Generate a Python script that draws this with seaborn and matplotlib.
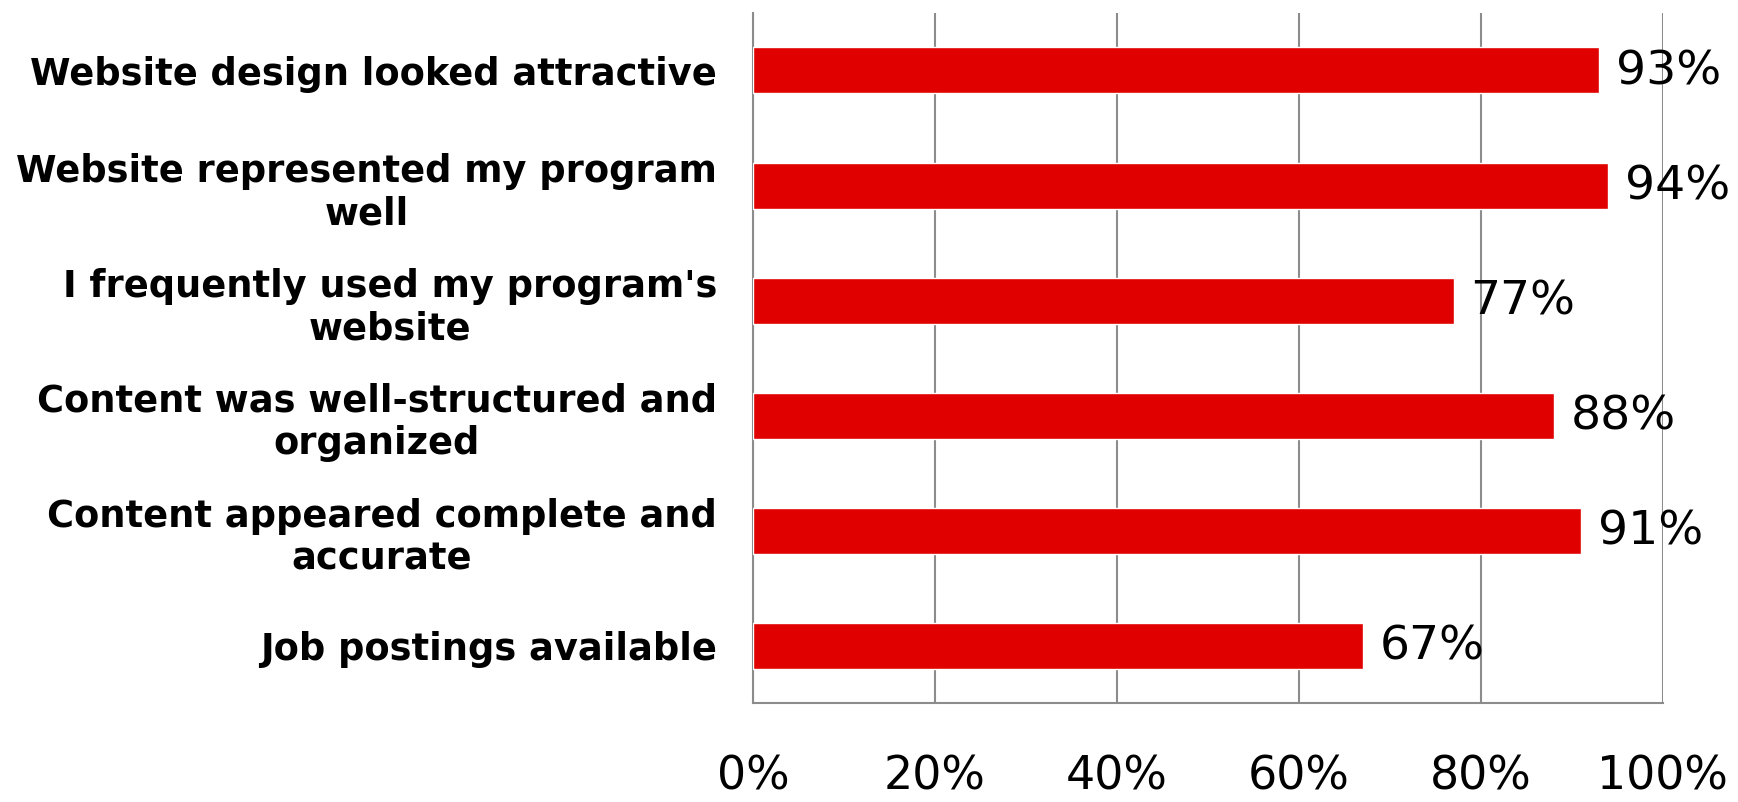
import pandas as pd
import matplotlib
matplotlib.use('Agg')
import matplotlib.pyplot as plt
import seaborn as sns
import numpy as np

# Daten aus der Vorlage
statements = [
    "Website design looked attractive",
    "Website represented my program\nwell",
    "I frequently used my program's\nwebsite",
    "Content was well-structured and\norganized",
    "Content appeared complete and\naccurate",
    "Job postings available",
]
agree_pct = [93, 94, 77, 88, 91, 67]
x_ticks = [0, 20, 40, 60, 80, 100]
x_tick_labels = ['0%', '20%', '40%', '60%', '80%', '100%']

df = pd.DataFrame({'statement': statements, 'pct': agree_pct})

sns.set_theme(style="white")
plt.rcParams['font.family'] = ['DejaVu Sans']

fig = plt.figure(figsize=(17.38, 8.02), dpi=100)
ax = fig.add_axes([0.4333, 0.1234, 0.9568 - 0.4333, 0.9838 - 0.1234])

sns.barplot(data=df, x='pct', y='statement', orient='h', color='#e00000',
            width=0.4, saturation=1, ax=ax, zorder=3)

ax.set_xlim(0, 100)
ax.set_ylim(len(statements) - 0.5, -0.5)
ax.set_xticks(x_ticks)
ax.set_xticklabels(x_tick_labels, fontsize=33, color='black')
ax.grid(axis='x', color='#8c8c8c', linewidth=1.5, zorder=0)
ax.grid(axis='y', visible=False)

# Kategorie-Beschriftungen
for t in ax.get_yticklabels():
    t.set_fontweight('bold')
    t.set_fontsize(26.5)
    t.set_color('black')
    t.set_multialignment('center')
ax.tick_params(axis='y', which='major', length=0, pad=26)
ax.set_yticks(np.arange(-0.5, len(statements), 1), minor=True)
ax.tick_params(axis='y', which='minor', length=9, width=1.5, color='#8c8c8c')
ax.tick_params(axis='x', which='major', length=12, width=1.5, color='#8c8c8c', pad=25)

for side in ['top', 'right']:
    ax.spines[side].set_visible(False)
for side in ['left', 'bottom']:
    ax.spines[side].set_color('#8c8c8c')
    ax.spines[side].set_linewidth(1.5)

ax.set_xlabel('')
ax.set_ylabel('')

# Werte an den Balken
for i, v in enumerate(agree_pct):
    ax.annotate(f'{v}%', xy=(v, i), xytext=(12, -1), textcoords='offset points',
                va='center', ha='left', fontsize=34, color='black', zorder=4)

fig.savefig('out.png', dpi=100)
plt.close()
